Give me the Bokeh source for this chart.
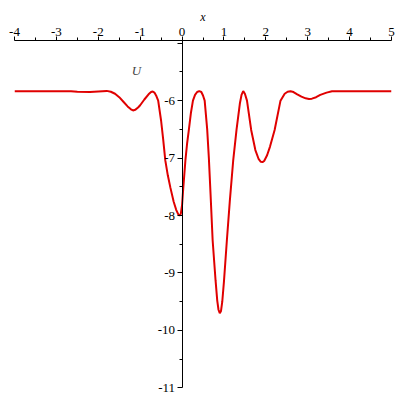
from bokeh.plotting import figure
from bokeh.models import Range1d, LinearAxis, FixedTicker, Label
from bokeh.embed import file_html
from bokeh.resources import INLINE

x_vals = [-4.0, -3.0, -2.65, -2.5, -2.2, -2.0, -1.8, -1.7, -1.6, -1.5, -1.4, -1.3,
          -1.22, -1.17, -1.12, -1.05, -1.0, -0.9, -0.8, -0.74, -0.7, -0.66, -0.62,
          -0.57, -0.5, -0.45, -0.40, -0.34, -0.28, -0.2, -0.14, -0.09, -0.06, -0.03,
          0.0, 0.03, 0.08, 0.12, 0.16, 0.21, 0.26, 0.31, 0.36, 0.41, 0.46, 0.50,
          0.54, 0.60, 0.64, 0.68, 0.73, 0.80, 0.84, 0.87, 0.90, 0.93, 0.96, 1.0,
          1.07, 1.14, 1.22, 1.30, 1.38, 1.42, 1.46, 1.50, 1.55, 1.65, 1.75, 1.83,
          1.88, 1.92, 1.96, 2.03, 2.1, 2.21, 2.35, 2.45, 2.52, 2.59, 2.66, 2.75,
          2.85, 2.95, 3.03, 3.1, 3.2, 3.3, 3.45, 3.58, 5.0]
u_vals = [-5.835, -5.835, -5.835, -5.845, -5.85, -5.84, -5.83, -5.845, -5.88, -5.94,
          -6.02, -6.10, -6.15, -6.17, -6.16, -6.12, -6.08, -5.98, -5.89, -5.85,
          -5.84, -5.86, -5.91, -6.0, -6.35, -6.68, -7.04, -7.3, -7.51, -7.76, -7.9,
          -7.98, -8.0, -7.97, -7.82, -7.51, -7.04, -6.75, -6.52, -6.22, -6.0,
          -5.9, -5.85, -5.835, -5.85, -5.91, -6.0, -6.5, -7.0, -7.62, -8.43,
          -9.13, -9.48, -9.64, -9.70, -9.66, -9.50, -9.15, -8.43, -7.75, -7.05,
          -6.51, -6.05, -5.9, -5.835, -5.88, -6.0, -6.51, -6.86, -7.02, -7.065,
          -7.07, -7.05, -6.95, -6.8, -6.51, -6.0, -5.88, -5.845, -5.835, -5.85,
          -5.89, -5.93, -5.96, -5.97, -5.965, -5.94, -5.9, -5.86, -5.835, -5.835]

x_ticks = [-4, -3, -2, -1, 0, 1, 2, 3, 4, 5]
x_minor = [-3.5, -2.5, -1.5, -0.5, 0.5, 1.5, 2.5, 3.5, 4.5]
y_ticks = [-5, -6, -7, -8, -9, -10, -11]
y_minor = [-5.5, -6.5, -7.5, -8.5, -9.5, -10.5]

FONT = "Liberation Serif"

p = figure(width=400, height=400, output_backend="svg", toolbar_location=None,
           x_range=Range1d(-4, 5), y_range=Range1d(-11.15, -4.953),
           x_axis_location=None, y_axis_location=None,
           min_border_left=14, min_border_right=9, min_border_top=40,
           min_border_bottom=4)
p.outline_line_color = None
p.xgrid.visible = False
p.ygrid.visible = False
p.background_fill_color = "white"
p.border_fill_color = "white"

xa = LinearAxis(ticker=FixedTicker(ticks=x_ticks, minor_ticks=x_minor))
xa.major_label_overrides = {t: str(t) for t in x_ticks}
xa.major_tick_out = 4
xa.major_tick_in = 0
xa.minor_tick_out = 3
xa.minor_tick_in = 0
xa.major_label_standoff = 1
xa.major_label_text_font = FONT
xa.major_label_text_font_size = "13px"
xa.major_label_text_color = "black"
xa.axis_line_color = "black"
xa.axis_label = "x"
xa.axis_label_text_font = FONT
xa.axis_label_text_font_style = "italic"
xa.axis_label_text_font_size = "12px"
xa.axis_label_standoff = 1
xa.axis_label_text_color = "black"
p.add_layout(xa, "above")

ya = LinearAxis(ticker=FixedTicker(ticks=y_ticks, minor_ticks=y_minor))
ya.major_label_overrides = {t: ("" if t == -5 else str(t)) for t in y_ticks}
ya.fixed_location = 0
ya.bounds = (-11, -4.953)
ya.major_tick_out = 5
ya.major_tick_in = 0
ya.minor_tick_out = 3
ya.minor_tick_in = 0
ya.major_label_standoff = 2
ya.major_label_text_font = FONT
ya.major_label_text_font_size = "13px"
ya.major_label_text_color = "black"
ya.axis_line_color = "black"
p.add_layout(ya, "left")

p.line(x_vals, u_vals, line_color="#e00000", line_width=2)

p.add_layout(Label(x=-1.09, y=-5.48, text="U", text_font=FONT,
                   text_font_style="italic", text_font_size="13px",
                   text_align="center", text_baseline="middle"))

open("out.html", "w").write(file_html(p, INLINE))
